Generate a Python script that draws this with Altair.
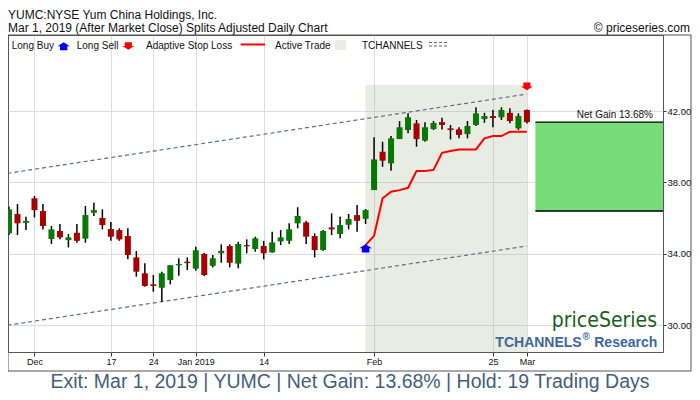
import altair as alt
import pandas as pd

# ---------------- data ----------------
day_index = list(range(63))
opens = [34.81, 35.15, 36.23, 35.74, 37.11, 36.40, 34.83, 35.28, 34.77, 35.18,
         34.85, 36.30, 36.01, 35.39, 35.33, 35.00, 33.80, 32.91, 32.29, 32.10,
         32.53, 33.36, 33.56, 33.17, 33.99, 33.33, 34.03, 34.44, 33.45, 34.49,
         34.27, 34.44, 34.08, 34.70, 34.73, 35.71, 35.76, 35.00, 34.21, 35.48,
         35.11, 35.63, 36.17, 35.96, 37.57, 39.72, 39.07, 40.43, 40.94, 41.31,
         40.34, 40.99, 41.38, 41.03, 40.97, 40.71, 41.22, 41.55, 41.72, 41.65,
         41.90, 41.03, 42.06]
highs = [35.80, 36.64, 36.79, 36.08, 37.24, 36.79, 35.56, 35.67, 35.11, 35.67,
         36.68, 36.86, 36.49, 35.78, 35.43, 35.43, 34.16, 33.47, 32.81, 33.00,
         33.37, 33.75, 33.80, 34.40, 34.05, 33.93, 34.53, 34.53, 34.68, 34.81,
         34.96, 34.72, 35.24, 35.33, 35.71, 36.61, 35.84, 35.15, 35.33, 36.27,
         36.08, 36.23, 36.73, 36.51, 40.53, 40.28, 40.60, 41.44, 41.87, 41.50,
         41.37, 41.44, 41.62, 41.22, 41.09, 41.44, 42.21, 41.90, 42.06, 42.21,
         42.15, 41.87, 42.08]
lows = [34.77, 35.05, 35.05, 35.33, 36.04, 35.37, 34.55, 34.81, 34.36, 34.62,
        34.62, 36.12, 35.37, 34.73, 34.73, 33.69, 32.72, 32.16, 31.88, 31.32,
        32.29, 32.77, 33.09, 33.05, 32.75, 33.24, 33.50, 33.24, 33.19, 34.03,
        34.12, 33.69, 34.06, 34.49, 34.55, 35.43, 34.55, 33.80, 34.17, 35.05,
        34.87, 35.37, 35.24, 35.67, 37.57, 38.88, 38.66, 40.43, 40.75, 40.00,
        40.28, 40.94, 40.97, 40.41, 40.47, 40.47, 41.16, 41.34, 41.09, 41.50,
        41.31, 40.94, 41.30]
closes = [35.33, 36.49, 35.71, 35.84, 36.45, 35.56, 35.37, 34.92, 34.92, 34.73,
          36.17, 36.45, 35.61, 34.96, 34.81, 33.93, 33.00, 32.20, 32.20, 32.91,
          33.36, 33.43, 33.48, 34.20, 32.81, 33.75, 34.17, 33.50, 34.55, 34.42,
          34.87, 34.03, 34.64, 34.92, 35.37, 36.12, 34.96, 34.21, 35.28, 35.37,
          35.61, 35.95, 35.85, 36.45, 39.29, 39.22, 40.47, 41.09, 41.65, 40.43,
          41.09, 41.33, 41.22, 40.94, 40.66, 41.16, 41.87, 41.72, 41.61, 42.06,
          41.44, 41.72, 41.38]

stop_index = list(range(43, 63))
stop_values = [34.49, 35.01, 37.11, 37.48, 37.57, 37.70, 38.64, 38.64, 38.70, 39.66,
               39.76, 39.85, 39.85, 39.85, 40.47, 40.60, 40.60, 40.84, 40.84, 40.84]

channel_index = [0, 62]
channel_upper = [38.45, 42.95]
channel_lower = [29.94, 34.44]

entry_index = 43
exit_index = 62
entry_price = 36.40
exit_price = 41.38
buy_marker = 34.31
sell_marker = 43.38
trade_zone_top = 43.46
box_start, box_end = 63, 79
net_gain_label = "Net Gain 13.68%"

tick_index = [4, 13, 18, 23, 31, 44, 58, 62]
tick_labels = ["Dec", "17", "24", "Jan 2019", "14", "Feb", "25", "Mar"]
y_ticks = [30, 34, 38, 42]

x_domain = [0.883, 78.03]
y_domain = [28.50, 46.26]

FONT = "Liberation Sans, Arial, Helvetica, sans-serif"

# ---------------- tables ----------------
candles = pd.DataFrame({"i": day_index, "open": opens, "high": highs,
                        "low": lows, "close": closes})
candles["up"] = candles["close"] >= candles["open"]
stops = pd.DataFrame({"i": stop_index, "v": stop_values})
upper = pd.DataFrame({"i": channel_index, "v": channel_upper})
lower = pd.DataFrame({"i": channel_index, "v": channel_lower})
zone = pd.DataFrame({"a": [entry_index], "b": [exit_index],
                     "top": [trade_zone_top], "bot": [y_domain[0]]})
box = pd.DataFrame({"a": [box_start], "b": [box_end],
                    "lo": [entry_price], "hi": [exit_price]})
buy = pd.DataFrame({"i": [entry_index], "v": [buy_marker]})
sell = pd.DataFrame({"i": [exit_index], "v": [sell_marker]})
gain_txt = pd.DataFrame({"i": [76.85], "v": [exit_price], "t": [net_gain_label]})
one = pd.DataFrame({"k": [0]})

# ---------------- scales / axes ----------------
label_expr = "''"
for v, t in reversed(list(zip(tick_index, tick_labels))):
    label_expr = f"datum.value == {v} ? '{t}' : ({label_expr})"

xscale = alt.Scale(domain=x_domain, nice=False, zero=False, padding=0)
yscale = alt.Scale(domain=y_domain, nice=False, zero=False, padding=0)
xaxis = alt.Axis(values=tick_index, labelExpr=label_expr, title=None, grid=True,
                 gridColor="#dddddd", domain=False, tickSize=4, tickColor="#333333",
                 labelPadding=1, labelFontSize=9, labelFont=FONT, labelColor="#111111",
                 labelFlush=False, labelOverlap=False)
yaxis = alt.Axis(orient="right", values=y_ticks, format=".2f", title=None, grid=True,
                 gridColor="#dddddd", domain=False, tickSize=3, tickColor="#333333",
                 labelPadding=1, labelFontSize=9.5, labelFont=FONT, labelColor="#111111")


def X(f):
    return alt.X(f, type="quantitative", scale=xscale, axis=xaxis)


def Y(f):
    return alt.Y(f, type="quantitative", scale=yscale, axis=yaxis)


UP_ARROW = "M0,-0.65L1,0L0.6,0L0.6,0.65L-0.6,0.65L-0.6,0L-1,0Z"
DOWN_ARROW = "M0,0.65L1,0L0.6,0L0.6,-0.65L-0.6,-0.65L-0.6,0L-1,0Z"

# ---------------- layers ----------------
zone_l = alt.Chart(zone).mark_rect(color="#a7b38b", opacity=0.25, clip=True).encode(
    x=X("a"), x2="b", y=Y("top"), y2="bot")

chan_u = alt.Chart(upper).mark_line(color="#5b6f84", strokeWidth=1.2, strokeDash=[4, 3],
                                    clip=True).encode(x=X("i"), y=Y("v"))
chan_l = alt.Chart(lower).mark_line(color="#5b6f84", strokeWidth=1.2, strokeDash=[4, 3],
                                    clip=True).encode(x=X("i"), y=Y("v"))

box_l = alt.Chart(box).mark_rect(color="#78dc78", clip=True).encode(
    x=X("a"), x2="b", y=Y("lo"), y2="hi")
box_top = alt.Chart(box).mark_rule(color="black", strokeWidth=1.3, clip=True).encode(
    x=X("a"), x2="b", y=Y("hi"))
box_bot = alt.Chart(box).mark_rule(color="black", strokeWidth=1.3, clip=True).encode(
    x=X("a"), x2="b", y=Y("lo"))
gain_l = alt.Chart(gain_txt).mark_text(align="right", baseline="bottom", dy=-2,
                                        fontSize=10, font=FONT, color="#111111").encode(
    x=X("i"), y=Y("v"), text="t:N")

stop_l = alt.Chart(stops).mark_line(color="#ff0000", strokeWidth=2, clip=True).encode(
    x=X("i"), y=Y("v"))

wick_l = alt.Chart(candles).mark_rule(color="black", strokeWidth=1.5, clip=True).encode(
    x=X("i"), y=Y("low"), y2="high")
body_l = alt.Chart(candles).mark_bar(size=6, clip=True).encode(
    x=X("i"), y=Y("open"), y2="close",
    color=alt.condition("datum.up", alt.value("#067806"), alt.value("#a80000")))

buy_l = alt.Chart(buy).mark_point(shape=UP_ARROW, size=160, filled=True, color="#0000ff",
                                  opacity=1).encode(x=X("i"), y=Y("v"))
sell_l = alt.Chart(sell).mark_point(shape=DOWN_ARROW, size=140, filled=True, color="#ff0000",
                                    opacity=1).encode(x=X("i"), y=Y("v"))


def txt(s, x, y, size=10, align="left", color="#111111", weight="normal", font=FONT):
    return alt.Chart(one).mark_text(text=s, align=align, baseline="alphabetic",
                                    fontSize=size, font=font, color=color,
                                    fontWeight=weight).encode(
        x=alt.value(x), y=alt.value(y))


# legend row (inside the plot, at its top)
leg = [
    txt("Long Buy", 3.7, 14),
    alt.Chart(one).mark_point(shape=UP_ARROW, size=150, filled=True, color="#0000ff",
                              opacity=1).encode(x=alt.value(55.7), y=alt.value(11.2)),
    txt("Long Sell", 68.7, 14),
    alt.Chart(one).mark_point(shape=DOWN_ARROW, size=140, filled=True, color="#ff0000",
                              opacity=1).encode(x=alt.value(120.3), y=alt.value(11)),
    txt("Adaptive Stop Loss", 138, 14),
    alt.Chart(one).mark_rule(color="#ff0000", strokeWidth=2).encode(
        x=alt.value(232.7), x2=alt.value(257), y=alt.value(9.5)),
    txt("Active Trade", 267, 14),
    alt.Chart(one).mark_rect(color="#e9ece2").encode(
        x=alt.value(327), x2=alt.value(338), y=alt.value(5), y2=alt.value(15)),
    txt("TCHANNELS", 354, 14),
    alt.Chart(one).mark_rule(color="#5b6f84", strokeWidth=1, strokeDash=[3, 2]).encode(
        x=alt.value(421), x2=alt.value(439), y=alt.value(7.5)),
    alt.Chart(one).mark_rule(color="#5b6f84", strokeWidth=1, strokeDash=[3, 2]).encode(
        x=alt.value(421), x2=alt.value(439), y=alt.value(11)),
]

titles = [
    txt("YUMC:NYSE Yum China Holdings, Inc.", 0, -16, size=12),
    txt("Mar 1, 2019 (After Market Close)  Splits Adjusted Daily Chart", 0, -3.2, size=12),
    txt("\u00a9 priceseries.com", 682, -3.2, size=12, align="right"),
    txt("priceSeries", 649, 292, size=21, align="right", color="#1b5e1b",
        font="Liberation Sans Narrow, DejaVu Sans Condensed, Arial Narrow, sans-serif"),
    txt("TCHANNELS", 573.7, 311.7, size=14, align="right", color="#3d6899", weight="bold"),
    txt("\u00ae", 574.5, 305, size=10, color="#3d6899", weight="bold"),
    txt("Research", 649.3, 311.7, size=14, align="right", color="#3d6899", weight="bold"),
    txt("Exit: Mar 1, 2019 | YUMC | Net Gain: 13.68% | Hold: 19 Trading Days", 342, 352.5,
        size=19.5, align="center", color="#445e7a"),
]

frame = alt.Chart(one).mark_rect(filled=False, stroke="#555555", strokeWidth=1).encode(
    x=alt.value(0), x2=alt.value(683), y=alt.value(0), y2=alt.value(336))

chart = alt.layer(
    zone_l, chan_u, chan_l, box_l, box_top, box_bot, stop_l, wick_l, body_l,
    buy_l, sell_l, gain_l, *leg, *titles, frame
).properties(
    width=655, height=317,
    padding={"left": 0, "top": 27, "right": 29, "bottom": 40},
    autosize=alt.AutoSizeParams(type="none"),
    background="white",
).configure_view(stroke="#555555", strokeWidth=1)

chart.save("out.html", embed_options={"renderer": "svg", "actions": False})
